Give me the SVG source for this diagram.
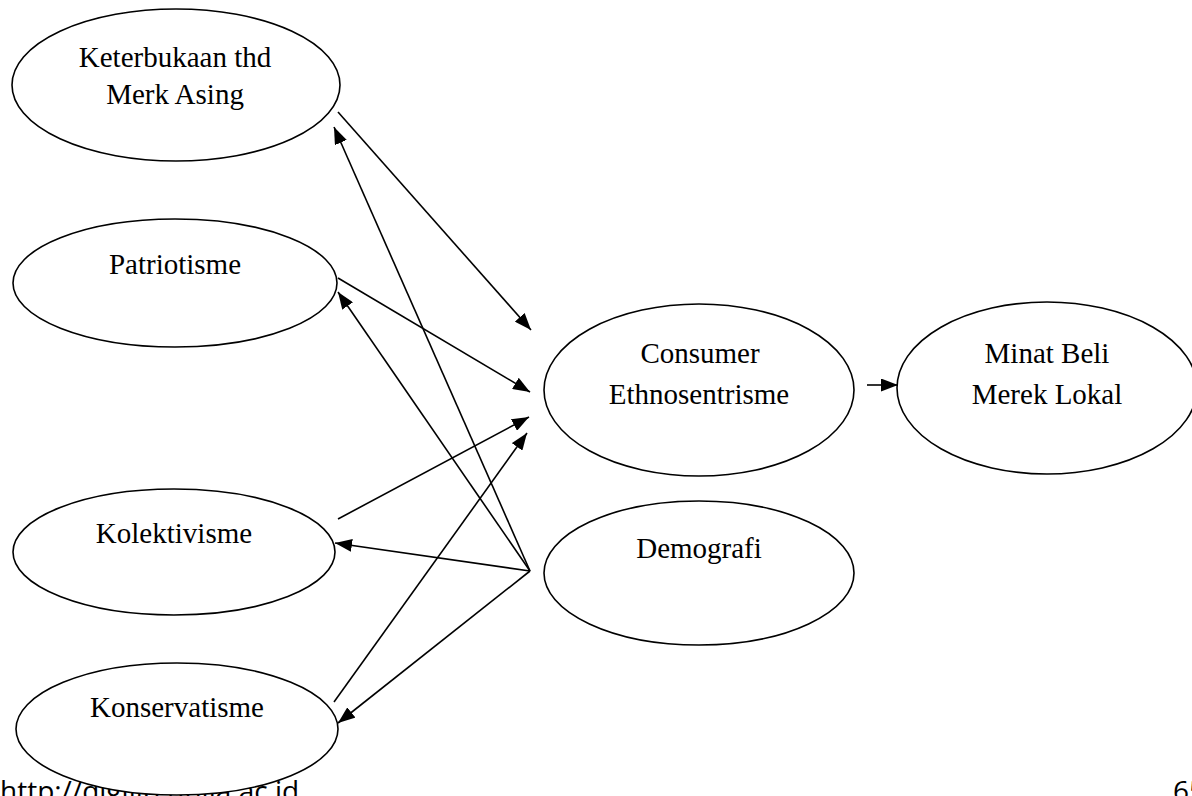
<svg xmlns="http://www.w3.org/2000/svg" width="1192" height="796" viewBox="0 0 1192 796">
<style>
.n ellipse{fill:#fff;stroke:#000;stroke-width:1.6}
.n text{font-family:"Liberation Serif","Times New Roman",serif;font-size:29px;fill:#000;text-anchor:middle}
.e line{stroke:#000;stroke-width:1.6;marker-end:url(#ah)}
.f{font-family:"Open Sans","Liberation Sans",sans-serif;font-size:28px;fill:#000}
</style>
<defs>
<marker id="ah" markerUnits="userSpaceOnUse" markerWidth="17" markerHeight="13" refX="17" refY="6.5" orient="auto">
<path d="M0,0 L17,6.5 L0,13 z" fill="#000"/>
</marker>
</defs>
<rect width="1192" height="796" fill="#fff"/>
<text class="f" x="0" y="801">http://digilib.unila.ac.id</text>
<text class="f" x="1173" y="801">65</text>
<g id="keterbukaan" class="n">
<ellipse cx="176" cy="85" rx="164" ry="76"/>
<text x="175" y="67">Keterbukaan thd</text>
<text x="175" y="104">Merk Asing</text>
</g>
<g id="patriotisme" class="n">
<ellipse cx="175" cy="283" rx="162" ry="64"/>
<text x="175" y="274">Patriotisme</text>
</g>
<g id="kolektivisme" class="n">
<ellipse cx="174" cy="552" rx="161" ry="63"/>
<text x="174" y="543">Kolektivisme</text>
</g>
<g id="konservatisme" class="n">
<ellipse cx="177" cy="729" rx="161" ry="66"/>
<text x="177" y="717">Konservatisme</text>
</g>
<g id="consumer" class="n">
<ellipse cx="699" cy="390" rx="155" ry="86"/>
<text x="700" y="363">Consumer</text>
<text x="699" y="404">Ethnosentrisme</text>
</g>
<g id="minat" class="n">
<ellipse cx="1047" cy="388" rx="150" ry="86"/>
<text x="1047" y="363">Minat Beli</text>
<text x="1047" y="404">Merek Lokal</text>
</g>
<g id="demografi" class="n">
<ellipse cx="699" cy="573" rx="155" ry="72"/>
<text x="699" y="558">Demografi</text>
</g>
<g id="connectors" class="e">
<line x1="338" y1="112" x2="531" y2="330"/>
<line x1="338" y1="278" x2="530" y2="392"/>
<line x1="338" y1="519" x2="529" y2="417"/>
<line x1="334" y1="702" x2="527" y2="433"/>
<line x1="530" y1="571" x2="334" y2="127"/>
<line x1="530" y1="571" x2="338" y2="292"/>
<line x1="530" y1="571" x2="335" y2="543"/>
<line x1="530" y1="571" x2="338" y2="723"/>
<line x1="867" y1="385" x2="898" y2="385"/>
</g>
</svg>
